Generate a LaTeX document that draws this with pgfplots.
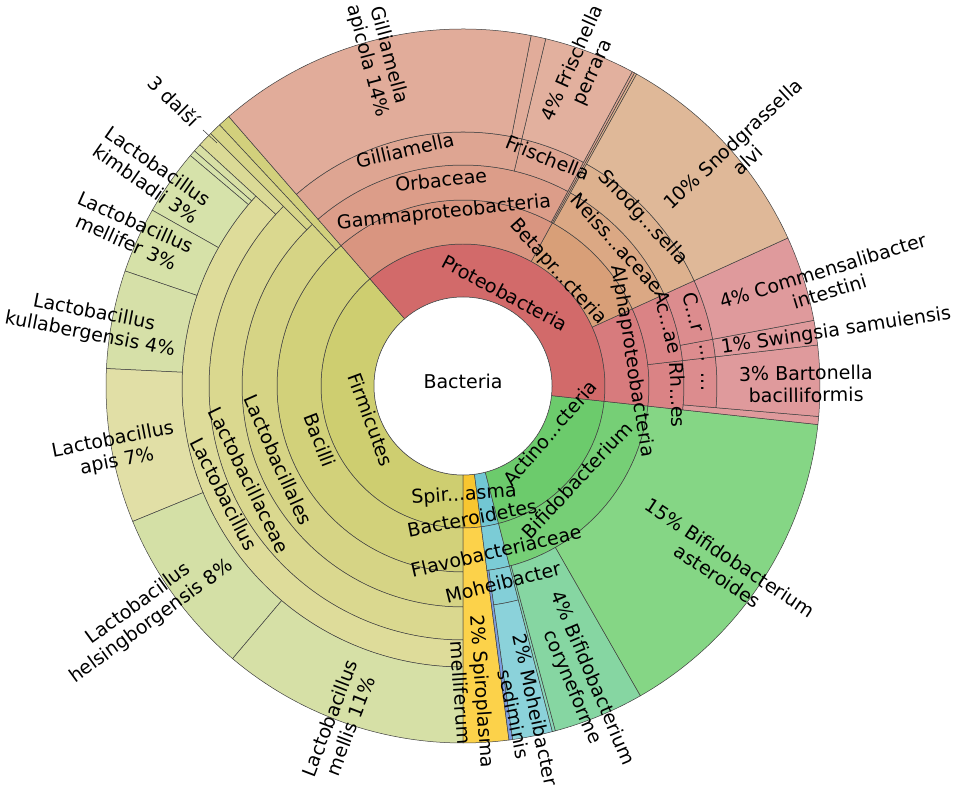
\documentclass[border=0pt]{standalone}
\usepackage{pgfplots}
\pgfplotsset{compat=1.18}
\usepackage{fontspec}
\setmainfont{DejaVu Sans}
\newcommand{\lbl}{\fontsize{19}{22}\selectfont}
% colours
\definecolor{firm1}{RGB}{206,206,112}
\definecolor{firm2}{RGB}{210,209,122}
\definecolor{firm3}{RGB}{214,212,133}
\definecolor{firm4}{RGB}{218,216,143}
\definecolor{firm5}{RGB}{222,220,154}
\definecolor{fo1}{RGB}{210,208,124}
\definecolor{fo2}{RGB}{215,213,136}
\definecolor{fo3}{RGB}{219,218,150}
\definecolor{fs1}{RGB}{216,224,165}
\definecolor{fs2}{RGB}{214,226,170}
\definecolor{kimb}{RGB}{214,226,170}
\definecolor{mellifer}{RGB}{214,225,168}
\definecolor{kull}{RGB}{214,224,168}
\definecolor{apis}{RGB}{225,223,166}
\definecolor{helsing}{RGB}{212,224,166}
\definecolor{mellis}{RGB}{214,224,166}
\definecolor{spiro1}{RGB}{248,198,48}
\definecolor{spiro2}{RGB}{252,210,74}
\definecolor{bact1}{RGB}{114,199,211}
\definecolor{bact2}{RGB}{123,204,214}
\definecolor{bact3}{RGB}{131,207,216}
\definecolor{bact4}{RGB}{139,210,218}
\definecolor{bactthin}{RGB}{126,158,224}
\definecolor{act1}{RGB}{108,203,108}
\definecolor{act2}{RGB}{118,207,118}
\definecolor{aster}{RGB}{133,214,133}
\definecolor{cory}{RGB}{134,214,162}
\definecolor{actthin}{RGB}{136,214,184}
\definecolor{prot1}{RGB}{210,106,106}
\definecolor{alpha2}{RGB}{215,123,125}
\definecolor{alpha3}{RGB}{218,131,133}
\definecolor{alpha4}{RGB}{220,140,142}
\definecolor{alphasp}{RGB}{223,154,156}
\definecolor{beta2}{RGB}{216,159,120}
\definecolor{beta3}{RGB}{219,168,132}
\definecolor{beta4}{RGB}{221,177,142}
\definecolor{betasp}{RGB}{223,184,152}
\definecolor{gamma2}{RGB}{217,149,128}
\definecolor{gamma3}{RGB}{220,157,137}
\definecolor{gamma4}{RGB}{222,165,146}
\definecolor{gammasp}{RGB}{225,172,154}
\definecolor{gammasp2}{RGB}{226,176,158}
% wedge: start angle, end angle, inner radius, outer radius, colour
\newcommand{\wdg}[5]{\filldraw[fill=#5, draw=black!75, line width=0.5pt]
 (axis cs:{463+#3*cos(#1)},{406+#3*sin(#1)}) arc[start angle=#1, end angle=#2, radius=#3pt]
 -- (axis cs:{463+#4*cos(#2)},{406+#4*sin(#2)}) arc[start angle=#2, end angle=#1, radius=#4pt] -- cycle;}
\newcommand{\lab}[4]{\node[rotate=#3, align=center, inner sep=0pt, font=\lbl, text=black] at (axis cs:#1,#2) {#4};}
\begin{document}
\begin{tikzpicture}
\begin{axis}[x=1pt, y=1pt, xmin=0, xmax=958, ymin=0, ymax=792,
  hide axis, clip=false, at={(0pt,0pt)}, anchor=south west]
% Firmicutes
\wdg{131}{270}{89}{142}{firm1}
\wdg{131}{270}{142}{186}{firm2}
\wdg{131}{133}{186}{357}{fo1}
\wdg{133}{270}{186}{221}{firm3}
\wdg{133}{135}{221}{357}{fo2}
\wdg{135}{270}{221}{254}{firm4}
\wdg{135}{137.5}{254}{357}{fo3}
\wdg{137.5}{270}{254}{281}{firm5}
\wdg{137.5}{138.8}{281}{357}{fs1}
\wdg{138.8}{139.8}{281}{357}{fs2}
\wdg{139.8}{150.5}{281}{357}{kimb}
\wdg{150.5}{161.2}{281}{357}{mellifer}
\wdg{161.2}{177.2}{281}{357}{kull}
\wdg{177.2}{202.3}{281}{357}{apis}
\wdg{202.3}{229.8}{281}{357}{helsing}
\wdg{229.8}{270}{281}{357}{mellis}
% Spiroplasma
\wdg{-90}{-82.6}{89}{142}{spiro1}
\wdg{-90}{-82.6}{142}{357}{spiro2}
% Bacteroidetes
\wdg{-82.6}{-75.5}{89}{142}{bact1}
\wdg{-82.6}{-75.5}{142}{186}{bact2}
\wdg{-82.6}{-82.0}{186}{357}{bactthin}
\wdg{-82.0}{-75.5}{186}{221}{bact3}
\wdg{-82.0}{-75.5}{221}{357}{bact4}
% Actinobacteria
\wdg{-75.5}{-6.2}{89}{142}{act1}
\wdg{-75.5}{-6.2}{142}{186}{act2}
\wdg{-75.5}{-75.0}{186}{357}{actthin}
\wdg{-75.0}{-60.2}{186}{357}{cory}
\wdg{-60.2}{-6.2}{186}{357}{aster}
% Proteobacteria
\wdg{-6.2}{131}{89}{142}{prot1}
\wdg{-6.2}{24.5}{142}{186}{alpha2}
\wdg{24.5}{61.3}{142}{186}{beta2}
\wdg{61.3}{131}{142}{186}{gamma2}
\wdg{-6.2}{6.6}{186}{221}{alpha3}
\wdg{6.6}{24.5}{186}{221}{alpha3}
\wdg{24.5}{60.9}{186}{221}{beta3}
\wdg{60.9}{61.3}{186}{357}{beta4}
\wdg{61.3}{61.7}{186}{357}{gamma4}
\wdg{61.7}{131}{186}{221}{gamma3}
\wdg{-6.2}{-4.9}{221}{357}{alphasp}
\wdg{-4.9}{6.6}{221}{254}{alpha4}
\wdg{6.6}{10.6}{221}{254}{alpha4}
\wdg{10.6}{24.5}{221}{254}{alpha4}
\wdg{24.5}{60.9}{221}{254}{beta4}
\wdg{61.7}{76.6}{221}{254}{gamma4}
\wdg{76.6}{131}{221}{254}{gamma4}
\wdg{-4.9}{6.6}{254}{357}{alphasp}
\wdg{6.6}{10.6}{254}{357}{alphasp}
\wdg{10.6}{24.5}{254}{357}{alphasp}
\wdg{24.5}{60.9}{254}{357}{betasp}
\wdg{61.7}{76.6}{254}{357}{gammasp2}
\wdg{76.6}{79}{254}{357}{gammasp}
\wdg{79}{131}{254}{357}{gammasp}
% centre
\filldraw[fill=white, draw=black!75, line width=0.5pt] (axis cs:463,406) circle[radius=89pt];
% labels
\lab{463}{411}{0}{Bacteria}
\lab{505}{499}{-28}{Proteobacteria}
\lab{444}{579}{6}{Gammaproteobacteria}
\lab{441}{612}{6}{Orbaceae}
\lab{405}{642}{13}{Gilliamella}
\lab{378}{734}{-75}{Gilliamella\\apicola 14\%}
\lab{548}{634}{-22}{Frischella}
\lab{583}{724}{66}{4\% Frischella\\perrara}
\lab{558}{520}{-48}{Betapr...cteria}
\lab{617}{549}{-48}{Neiss...aceae}
\lab{643}{574}{-47}{Snodg...sella}
\lab{740}{640}{43}{10\% Snodgrassella\\alvi}
\lab{632}{431}{-81}{Alphaproteobacteria}
\lab{668}{470}{-77}{Ac...ae}
\lab{678}{397}{-88}{Rh...es}
\lab{694}{480}{-76}{C...r}
\lab{702}{439}{-81}{...}
\lab{703}{410}{-89}{...}
\lab{826}{511}{17}{4\% Commensalibacter\\intestini}
\lab{836}{461}{8.6}{1\% Swingsia samuiensis}
\lab{806}{408}{0.8}{3\% Bartonella\\bacilliformis}
\lab{550}{359}{49}{Actino...cteria}
\lab{577}{312}{47}{Bifidobacterium}
\lab{724}{225}{-33.5}{15\% Bifidobacterium\\asteroides}
\lab{582}{109}{-67}{4\% Bifidobacterium\\coryneforme}
\lab{525}{80}{-78}{2\% Moheibacter\\sediminis}
\lab{472}{100}{-86}{2\% Spiroplasma\\melliferum}
\lab{464}{297}{4}{Spir...asma}
\lab{472}{274}{11}{Bacteroidetes}
\lab{496}{241}{13}{Flavobacteriaceae}
\lab{503}{210}{14}{Moheibacter}
\lab{371}{372}{-69.5}{Firmicutes}
\lab{320}{352}{-69}{Bacilli}
\lab{278}{332}{-66}{Lactobacillales}
\lab{249}{312}{-64}{Lactobacillaceae}
\lab{224}{298}{-63}{Lactobacillus}
\lab{152}{617}{-35}{Lactobacillus\\kimbladii 3\%}
\lab{131}{560}{-24}{Lactobacillus\\mellifer 3\%}
\lab{92}{468}{-11}{Lactobacillus\\kullabergensis 4\%}
\lab{115}{341}{11}{Lactobacillus\\apis 7\%}
\lab{145}{179}{36}{Lactobacillus\\helsingborgensis 8\%}
\lab{340}{70}{69}{Lactobacillus\\mellis 11\%}
\lab{174}{691}{-45}{3 další}
\draw[black!80, line width=0.5pt] (axis cs:203,662) -- (axis cs:217,649);
\end{axis}
\pgfresetboundingbox
\path[use as bounding box] (0pt,0pt) rectangle (958pt,792pt);
\end{tikzpicture}
\end{document}
